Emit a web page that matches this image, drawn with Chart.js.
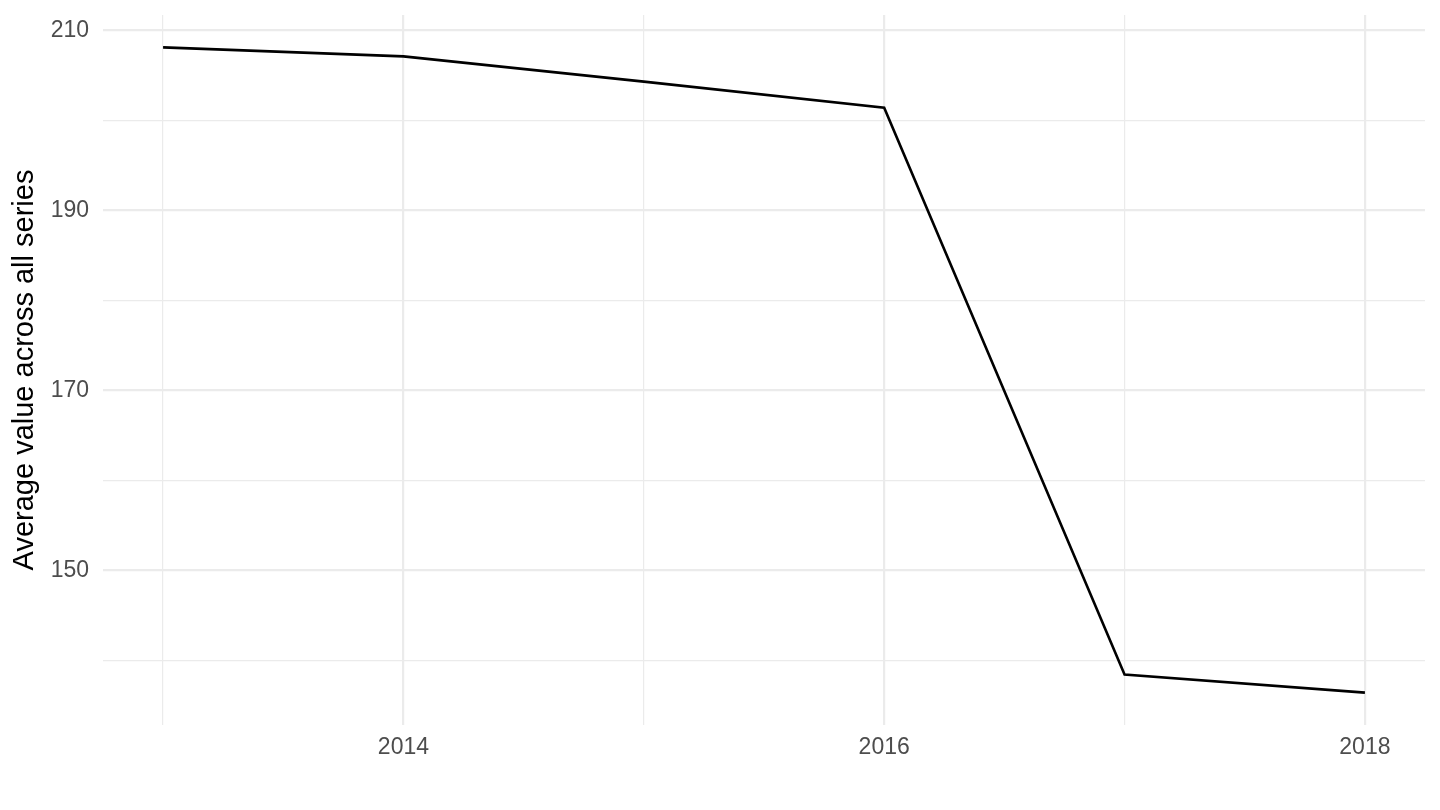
<!DOCTYPE html>
<html>
<head>
<meta charset="utf-8">
<script src="https://cdn.jsdelivr.net/npm/chart.js@4"></script>
<style>
  html, body { margin: 0; padding: 0; background: #ffffff; }
  #wrap { width: 1440px; height: 810px; }
</style>
</head>
<body>
<div id="wrap"><canvas id="c" width="1440" height="810"></canvas></div>
<script>
const years = [2013, 2014, 2015, 2016, 2017, 2018];
const avgValues = [208.1, 207.1, 204.3, 201.4, 138.4, 136.4];
const xTickLabels = [2014, 2016, 2018];
const yTickLabels = [150, 170, 190, 210];
const yAxisTitle = 'Average value across all series';

const FONT = "'Liberation Sans', Arial, Helvetica, sans-serif";

new Chart(document.getElementById('c'), {
  type: 'line',
  data: {
    datasets: [{
      data: years.map((y, i) => ({ x: y, y: avgValues[i] })),
      borderColor: '#000000',
      borderWidth: 2.6,
      pointRadius: 0,
      tension: 0,
      fill: false
    }]
  },
  options: {
    responsive: false,
    animation: false,
    layout: { padding: { top: 15, right: 15, left: 0, bottom: 0 } },
    plugins: { legend: { display: false }, tooltip: { enabled: false } },
    scales: {
      x: {
        type: 'linear',
        min: 2012.75,
        max: 2018.25,
        border: { display: false },
        grid: {
          drawTicks: false,
          color: '#ebebeb',
          lineWidth: ctx => (xTickLabels.includes(ctx.tick.value) ? 2.2 : 1.2)
        },
        ticks: {
          stepSize: 1,
          includeBounds: false,
          autoSkip: false,
          maxRotation: 0,
          padding: 9,
          color: '#4d4d4d',
          font: { family: FONT, size: 23 },
          callback: v => (xTickLabels.includes(v) ? String(v) : '')
        },
        afterFit: s => { s.height = 85; s.paddingLeft = 0; s.paddingRight = 0; }
      },
      y: {
        type: 'linear',
        min: 132.8,
        max: 211.7,
        border: { display: false },
        grid: {
          drawTicks: false,
          color: '#ebebeb',
          lineWidth: ctx => (yTickLabels.includes(ctx.tick.value) ? 2.2 : 1.2)
        },
        ticks: {
          stepSize: 10,
          includeBounds: false,
          autoSkip: false,
          padding: 14,
          color: '#4d4d4d',
          font: { family: FONT, size: 23 },
          callback: v => (yTickLabels.includes(v) ? String(v) : '')
        },
        title: {
          display: true,
          text: yAxisTitle,
          color: '#000000',
          font: { family: FONT, size: 29, lineHeight: 1 },
          padding: { top: 10, bottom: 0 }
        },
        afterFit: s => { s.width = 103; s.paddingTop = 0; s.paddingBottom = 0; }
      }
    }
  }
});
</script>
</body>
</html>
